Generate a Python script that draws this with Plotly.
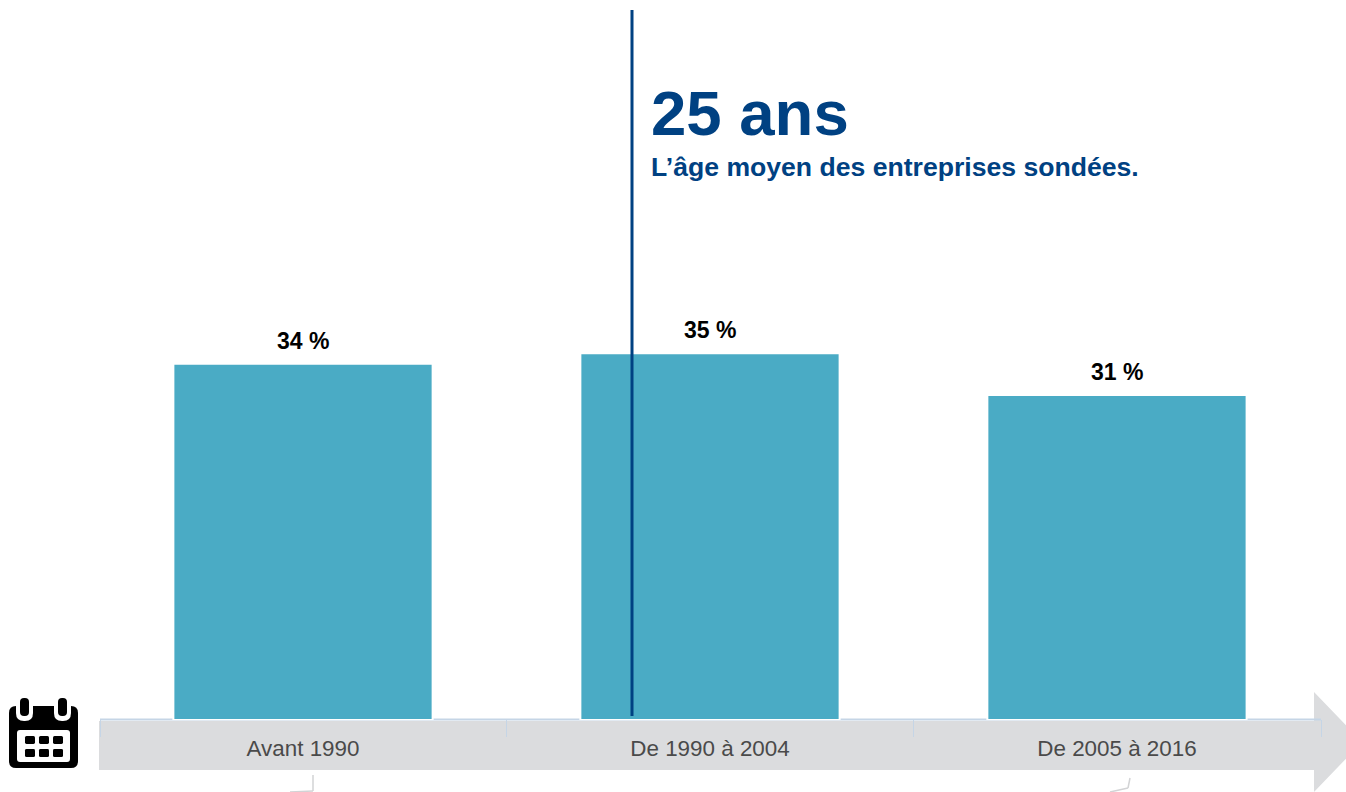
import plotly.graph_objects as go

W, H = 1346, 792

# --- data -------------------------------------------------------------
categories = ["Avant 1990", "De 1990 à 2004", "De 2005 à 2016"]
values = [34, 35, 31]
value_labels = ["34 %", "35 %", "31 %"]
headline = "25 ans"
subhead = "L’âge moyen des entreprises sondées."

# --- style ------------------------------------------------------------
BAR = "#4AABC5"
NAVY = "#004182"
ARROW = "#DBDCDE"
BRACKET = "#C5D5E6"
FONT = "Liberation Sans, Arial, sans-serif"


def px(x):
    return x / W


def py(y):
    return 1 - y / H


def path(points):
    return "M " + " L ".join(f"{px(x):.5f},{py(y):.5f}" for x, y in points) + " Z"


def rrect(x0, y0, x1, y1, r):
    """Rounded rectangle as an SVG path in paper coordinates."""
    rx, ry = r / W, r / H
    a, b, c, d = px(x0), px(x1), py(y0), py(y1)
    return (
        f"M {a+rx:.5f},{c:.5f} L {b-rx:.5f},{c:.5f} Q {b:.5f},{c:.5f} {b:.5f},{c-ry:.5f} "
        f"L {b:.5f},{d+ry:.5f} Q {b:.5f},{d:.5f} {b-rx:.5f},{d:.5f} "
        f"L {a+rx:.5f},{d:.5f} Q {a:.5f},{d:.5f} {a:.5f},{d+ry:.5f} "
        f"L {a:.5f},{c-ry:.5f} Q {a:.5f},{c:.5f} {a+rx:.5f},{c:.5f} Z"
    )


def paper_shape(p, fill=None, line=None, width=0, layer="above"):
    return dict(
        type="path", xref="paper", yref="paper", path=p, layer=layer,
        fillcolor=fill if fill else "rgba(0,0,0,0)",
        line=dict(color=line if line else "rgba(0,0,0,0)", width=width),
    )


def seg(x0, y0, x1, y1, color, width, layer="below"):
    return dict(
        type="line", xref="paper", yref="paper", layer=layer,
        x0=px(x0), y0=py(y0), x1=px(x1), y1=py(y1),
        line=dict(color=color, width=width),
    )


shapes = []

# arrow band with its head running off the page
shapes.append(paper_shape(
    path([(99, 721), (1314, 721), (1314, 692), (1362, 742), (1314, 792),
          (1314, 770), (99, 770)]),
    fill=ARROW, layer="below"))

# pale bracket along the top of the band
shapes.append(seg(100, 719.5, 1321, 719.5, BRACKET, 2))
for tick_x in [100.5, 506.5, 913.5, 1321.5]:
    shapes.append(seg(tick_x, 720, tick_x, 737, BRACKET, 1))

# small grey leader marks under the band
shapes.append(seg(313, 775, 313, 791, "#D2D3D5", 1.5))
shapes.append(seg(313, 791, 290, 792, "#D2D3D5", 1.5))
shapes.append(seg(1130, 778, 1128, 788, "#D2D3D5", 1.5))
shapes.append(seg(1128, 788, 1110, 792, "#D2D3D5", 1.5))

# vertical navy rule
shapes.append(seg(632, 10, 632, 716, NAVY, 3, layer="above"))

# calendar icon
shapes.append(paper_shape(rrect(9, 706, 78, 768, 7), fill="#000000"))
shapes.append(paper_shape(rrect(16, 694, 33, 721, 8), fill="#FFFFFF"))
shapes.append(paper_shape(rrect(54, 694, 71, 721, 8), fill="#FFFFFF"))
shapes.append(paper_shape(rrect(20, 698, 29, 716, 4), fill="#000000"))
shapes.append(paper_shape(rrect(58, 698, 67, 716, 4), fill="#000000"))
shapes.append(paper_shape(rrect(17, 730, 70, 762, 3), fill="#FFFFFF"))
for sq_y in [736, 749]:
    for sq_x in [25, 39, 53]:
        shapes.append(paper_shape(rrect(sq_x, sq_y, sq_x + 10, sq_y + 8, 1.5), fill="#000000"))

# --- figure -----------------------------------------------------------
fig = go.Figure(go.Bar(
    x=list(range(len(categories))),
    y=values,
    width=0.637,
    marker=dict(color=BAR, line=dict(color="#FFFFFF", width=2)),
    hoverinfo="skip",
))

annotations = [
    dict(x=i, y=v, xref="x", yref="y", text=t, showarrow=False,
         yanchor="bottom", xanchor="center", yshift=8,
         font=dict(family=FONT, size=23, color="#000000", weight="bold"))
    for i, (v, t) in enumerate(zip(values, value_labels))
]
annotations.append(dict(
    x=px(649), y=py(113), xref="paper", yref="paper", text=headline, showarrow=False,
    xanchor="left", yanchor="middle",
    font=dict(family=FONT, size=63.5, color=NAVY, weight="bold")))
annotations.append(dict(
    x=px(649), y=py(167), xref="paper", yref="paper", text=subhead, showarrow=False,
    xanchor="left", yanchor="middle",
    font=dict(family=FONT, size=26.6, color=NAVY, weight="bold")))

fig.update_layout(
    width=W, height=H,
    margin=dict(l=0, r=0, t=0, b=0),
    paper_bgcolor="#FFFFFF", plot_bgcolor="rgba(0,0,0,0)",
    showlegend=False,
    shapes=shapes,
    annotations=annotations,
    xaxis=dict(
        range=[-0.7445, 2.5627],
        tickmode="array", tickvals=list(range(len(categories))), ticktext=categories,
        ticks="", showgrid=False, zeroline=False, showline=False,
        ticklabelstandoff=13,
        tickfont=dict(family=FONT, size=22.4, color="#4A4A4A"),
        fixedrange=True,
    ),
    yaxis=dict(
        domain=[1 - 720 / H, 1],
        range=[0, 720 / 10.48],
        visible=False, fixedrange=True,
    ),
)

fig.write_html(
    "out.html",
    config=dict(displayModeBar=False),
    post_script="document.body.style.margin='0';document.body.style.overflow='hidden';",
)
